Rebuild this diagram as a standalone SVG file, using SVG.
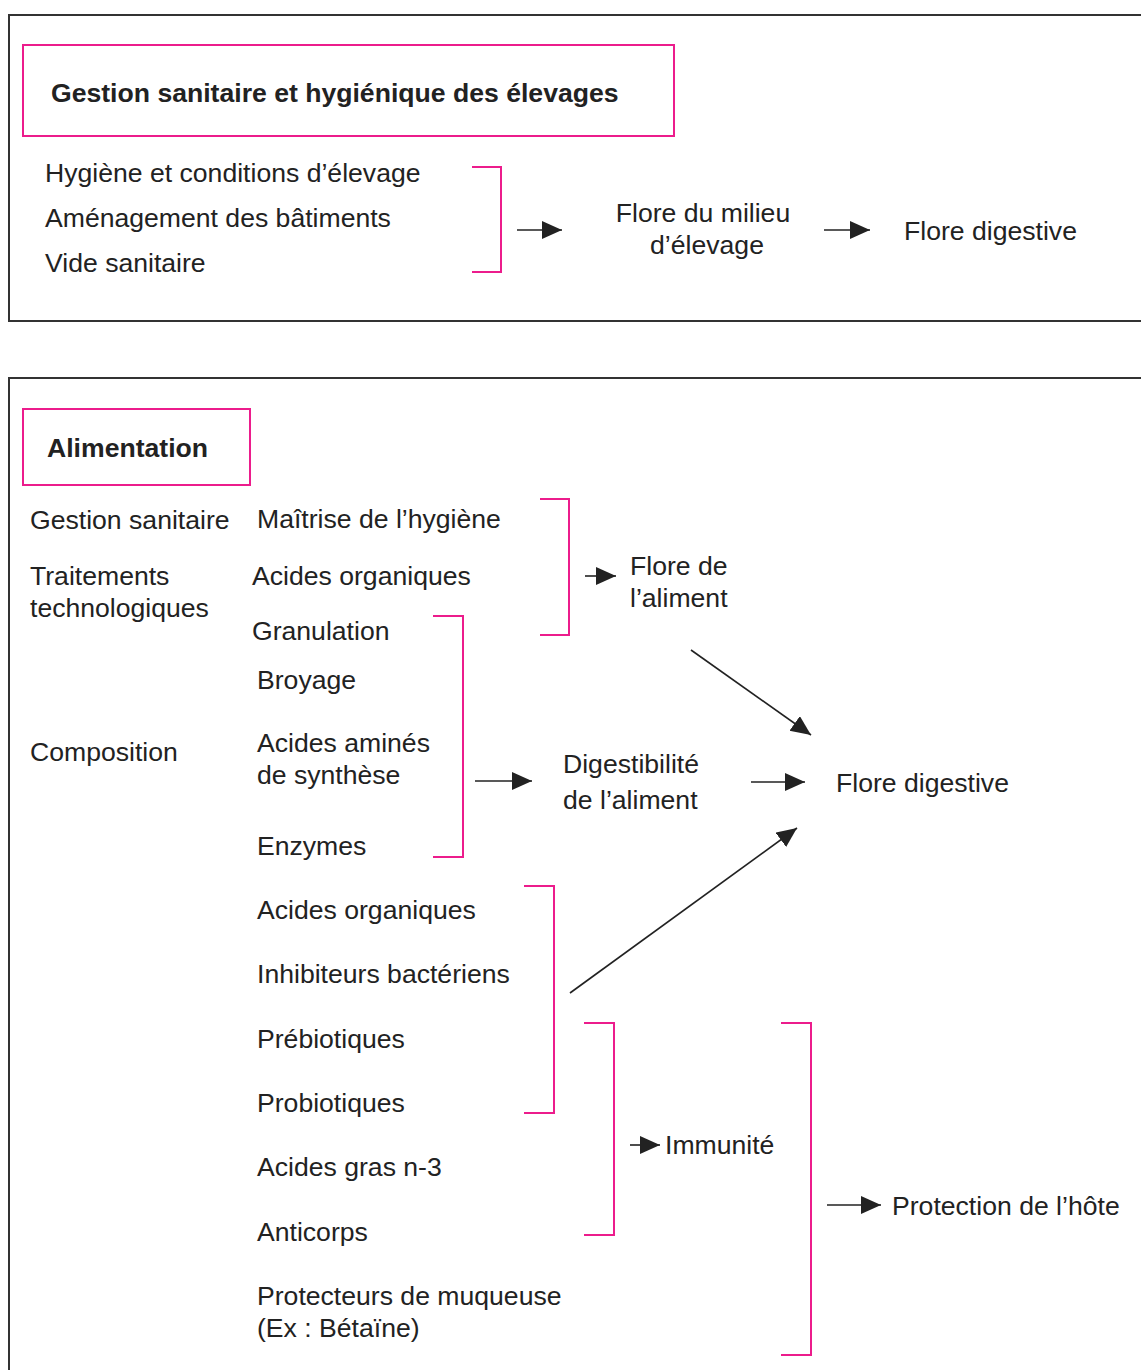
<svg xmlns="http://www.w3.org/2000/svg" width="1141" height="1370" viewBox="0 0 1141 1370">
<style>
text{font-family:"Liberation Sans",Arial,sans-serif;font-size:26.6px;fill:#222}
.b{font-weight:bold}
.frame{fill:none;stroke:#333;stroke-width:2}
.pink{fill:none;stroke:#ec1c8c;stroke-width:2}
.br{fill:none;stroke:#ec1c8c;stroke-width:2}
.c{fill:none;stroke:#222;stroke-width:1.6}
</style>
<defs>
<marker id="ah" markerUnits="userSpaceOnUse" markerWidth="22" markerHeight="20" refX="20" refY="9" orient="auto">
<path d="M0,0 L20,9 L0,18 Z" fill="#222"/>
</marker>
</defs>
<rect width="1141" height="1370" fill="#fff"/>

<g id="section1">
<rect class="frame" x="9" y="15" width="1145" height="306"/>
<g id="title1"><rect class="pink" x="23" y="45" width="651" height="91"/>
<text class="b" x="51" y="102">Gestion sanitaire et hygiénique des élevages</text></g>
<g id="items1">
<text x="45" y="182">Hygiène et conditions d’élevage</text>
<text x="45" y="227">Aménagement des bâtiments</text>
<text x="45" y="272">Vide sanitaire</text>
<path class="br" d="M472,167 H501 V272 H472"/>
</g>
<g id="flore-milieu"><text x="703" y="222" text-anchor="middle">Flore du milieu</text><text x="707" y="254" text-anchor="middle">d’élevage</text></g>
<g id="flore-dig1"><text x="904" y="240">Flore digestive</text></g>
</g>

<g id="section2">
<rect class="frame" x="9" y="378" width="1145" height="1010"/>
<g id="title2"><rect class="pink" x="23" y="409" width="227" height="76"/>
<text class="b" x="47" y="457">Alimentation</text></g>
<g id="categories">
<text x="30" y="529">Gestion sanitaire</text>
<text x="30" y="585">Traitements</text>
<text x="30" y="617">technologiques</text>
<text x="30" y="761">Composition</text>
</g>
<g id="items2">
<text x="257" y="528">Maîtrise de l’hygiène</text>
<text x="252" y="585">Acides organiques</text>
<text x="252" y="640">Granulation</text>
<text x="257" y="689">Broyage</text>
<text x="257" y="752">Acides aminés</text>
<text x="257" y="784">de synthèse</text>
<text x="257" y="855">Enzymes</text>
<text x="257" y="919">Acides organiques</text>
<text x="257" y="983">Inhibiteurs bactériens</text>
<text x="257" y="1048">Prébiotiques</text>
<text x="257" y="1112">Probiotiques</text>
<text x="257" y="1176">Acides gras n-3</text>
<text x="257" y="1241">Anticorps</text>
<text x="257" y="1305">Protecteurs de muqueuse</text>
<text x="257" y="1337">(Ex : Bétaïne)</text>
</g>
<g id="brackets">
<path class="br" d="M540,499 H569 V635 H540"/>
<path class="br" d="M433,616 H463 V857 H433"/>
<path class="br" d="M524,886 H554 V1113 H524"/>
<path class="br" d="M584,1023 H614 V1235 H584"/>
<path class="br" d="M781,1023 H811 V1355 H781"/>
</g>
<g id="flore-aliment"><text x="630" y="575">Flore de</text><text x="630" y="607">l’aliment</text></g>
<g id="digestibilite"><text x="563" y="773">Digestibilité</text><text x="563" y="809">de l’aliment</text></g>
<g id="flore-dig2"><text x="836" y="792">Flore digestive</text></g>
<g id="immunite"><text x="665" y="1154">Immunité</text></g>
<g id="protection"><text x="892" y="1215">Protection de l’hôte</text></g>
</g>

<g id="connectors">
<line class="c" x1="517" y1="230" x2="562" y2="230" marker-end="url(#ah)"/>
<line class="c" x1="824" y1="230" x2="870" y2="230" marker-end="url(#ah)"/>
<line class="c" x1="585" y1="576" x2="616" y2="576" marker-end="url(#ah)"/>
<line class="c" x1="475" y1="781" x2="532" y2="781" marker-end="url(#ah)"/>
<line class="c" x1="751" y1="782" x2="805" y2="782" marker-end="url(#ah)"/>
<line class="c" x1="691" y1="650" x2="811" y2="735" marker-end="url(#ah)"/>
<line class="c" x1="570" y1="993" x2="797" y2="828" marker-end="url(#ah)"/>
<line class="c" x1="630" y1="1145" x2="660" y2="1145" marker-end="url(#ah)"/>
<line class="c" x1="827" y1="1205" x2="881" y2="1205" marker-end="url(#ah)"/>
</g>
</svg>
